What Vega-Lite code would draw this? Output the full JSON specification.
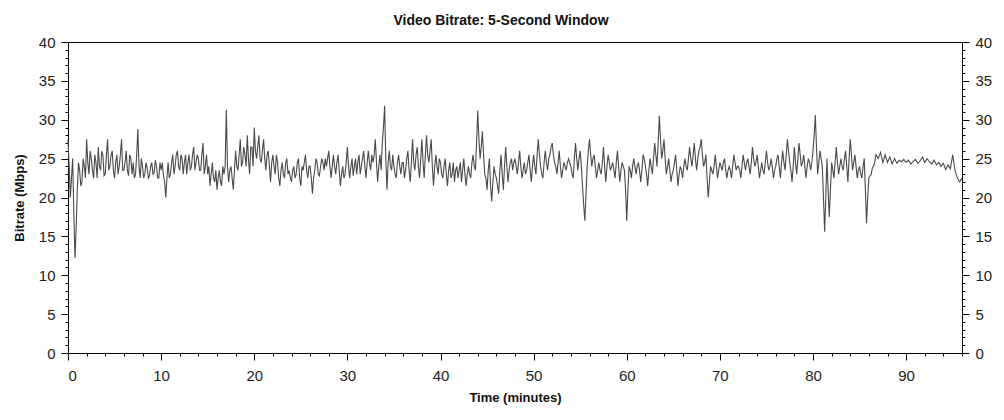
{
  "$schema": "https://vega.github.io/schema/vega-lite/v6.json",
  "autosize": "none",
  "width": 894,
  "height": 311,
  "padding": {"left": 68, "top": 42, "right": 42, "bottom": 67},
  "background": "white",
  "title": {"text": "Video Bitrate: 5-Second Window", "font": "Liberation Sans", "fontSize": 14, "fontWeight": "bold", "color": "#111", "anchor": "middle", "dx": -14, "offset": 7},
  "config": {
    "view": {"stroke": "#000", "strokeWidth": 1},
    "axis": {"labelFont": "Liberation Sans", "labelFontSize": 15, "labelColor": "#222", "titleFont": "Liberation Sans", "titleFontSize": 13, "titleFontWeight": "bold", "titleColor": "#111", "domainColor": "#000", "tickColor": "#000", "grid": false, "labelOverlap": false}
  },
  "data": {"values": [
{"t":0,"v":27.5},{"t":0.25,"v":20},{"t":0.5,"v":25},{"t":0.75,"v":12.2},
{"t":1,"v":21},{"t":1.25,"v":23.5},{"t":1.5,"v":22},{"t":1.75,"v":24},
{"t":2,"v":27.5},{"t":2.25,"v":23},{"t":2.5,"v":25},{"t":2.75,"v":22.5},
{"t":3,"v":24.5},{"t":3.25,"v":26.5},{"t":3.5,"v":23.5},{"t":3.75,"v":25.5},
{"t":4,"v":23},{"t":4.25,"v":27.5},{"t":4.5,"v":24},{"t":4.75,"v":26},
{"t":5,"v":22.5},{"t":5.25,"v":25.5},{"t":5.5,"v":24},{"t":5.75,"v":27.5},
{"t":6,"v":23.5},{"t":6.25,"v":26},{"t":6.5,"v":22.8},{"t":6.75,"v":25},
{"t":7,"v":24.5},{"t":7.25,"v":23},{"t":7.5,"v":28.8},{"t":7.75,"v":22.5},
{"t":8,"v":24},{"t":8.25,"v":23},{"t":8.5,"v":23.8},{"t":8.75,"v":22.8},
{"t":9,"v":24.5},{"t":9.25,"v":23.2},{"t":9.5,"v":24},{"t":9.75,"v":22.5},
{"t":10,"v":23.5},{"t":10.25,"v":22.8},{"t":10.5,"v":20},{"t":10.75,"v":24.5},
{"t":11,"v":23},{"t":11.25,"v":25.5},{"t":11.5,"v":24},{"t":11.75,"v":26},
{"t":12,"v":23.5},{"t":12.25,"v":25},{"t":12.5,"v":24.5},{"t":12.75,"v":23},
{"t":13,"v":25.5},{"t":13.25,"v":24},{"t":13.5,"v":26.5},{"t":13.75,"v":24.5},
{"t":14,"v":25},{"t":14.25,"v":23.5},{"t":14.5,"v":27},{"t":14.75,"v":24},
{"t":15,"v":23},{"t":15.25,"v":21.5},{"t":15.5,"v":24.5},{"t":15.75,"v":22},
{"t":16,"v":21},{"t":16.25,"v":23.5},{"t":16.5,"v":21.5},{"t":16.75,"v":23},
{"t":17,"v":31.3},{"t":17.25,"v":22},{"t":17.5,"v":24},{"t":17.75,"v":21},
{"t":18,"v":26},{"t":18.25,"v":23.5},{"t":18.5,"v":27.5},{"t":18.75,"v":24.5},
{"t":19,"v":25.5},{"t":19.25,"v":28},{"t":19.5,"v":23},{"t":19.75,"v":26.5},
{"t":20,"v":29},{"t":20.25,"v":25},{"t":20.5,"v":28},{"t":20.75,"v":24.5},
{"t":21,"v":27.5},{"t":21.25,"v":23.5},{"t":21.5,"v":26},{"t":21.75,"v":22},
{"t":22,"v":25.5},{"t":22.25,"v":23},{"t":22.5,"v":24.5},{"t":22.75,"v":21.5},
{"t":23,"v":24.5},{"t":23.25,"v":22.5},{"t":23.5,"v":25},{"t":23.75,"v":23.5},
{"t":24,"v":22},{"t":24.25,"v":24},{"t":24.5,"v":23},{"t":24.75,"v":25},
{"t":25,"v":21.5},{"t":25.25,"v":23.5},{"t":25.5,"v":25.5},{"t":25.75,"v":22.5},
{"t":26,"v":24},{"t":26.25,"v":20.5},{"t":26.5,"v":23.5},{"t":26.75,"v":24.5},
{"t":27,"v":22.8},{"t":27.25,"v":25},{"t":27.5,"v":23.5},{"t":27.75,"v":24},
{"t":28,"v":26},{"t":28.25,"v":22.5},{"t":28.5,"v":25.5},{"t":28.75,"v":23},
{"t":29,"v":25.5},{"t":29.25,"v":21.5},{"t":29.5,"v":24},{"t":29.75,"v":23},
{"t":30,"v":26.5},{"t":30.25,"v":22.5},{"t":30.5,"v":25},{"t":30.75,"v":24},
{"t":31,"v":23},{"t":31.25,"v":25.5},{"t":31.5,"v":24},{"t":31.75,"v":26},
{"t":32,"v":22.5},{"t":32.25,"v":26},{"t":32.5,"v":23.5},{"t":32.75,"v":24.5},
{"t":33,"v":27.5},{"t":33.25,"v":22},{"t":33.5,"v":25.5},{"t":33.75,"v":27},
{"t":34,"v":31.8},{"t":34.25,"v":21},{"t":34.5,"v":26},{"t":34.75,"v":23.5},
{"t":35,"v":24},{"t":35.25,"v":22.5},{"t":35.5,"v":25.5},{"t":35.75,"v":23},
{"t":36,"v":24.5},{"t":36.25,"v":23.5},{"t":36.5,"v":26},{"t":36.75,"v":22},
{"t":37,"v":27.5},{"t":37.25,"v":23.5},{"t":37.5,"v":26.5},{"t":37.75,"v":22.5},
{"t":38,"v":27.5},{"t":38.25,"v":22.5},{"t":38.5,"v":28},{"t":38.75,"v":24.5},
{"t":39,"v":27.5},{"t":39.25,"v":21.5},{"t":39.5,"v":25.5},{"t":39.75,"v":23},
{"t":40,"v":24.5},{"t":40.25,"v":22.5},{"t":40.5,"v":25},{"t":40.75,"v":21.5},
{"t":41,"v":24.5},{"t":41.25,"v":23},{"t":41.5,"v":22},{"t":41.75,"v":24},
{"t":42,"v":23.5},{"t":42.25,"v":22},{"t":42.5,"v":25},{"t":42.75,"v":21.5},
{"t":43,"v":24},{"t":43.25,"v":22.5},{"t":43.5,"v":25.5},{"t":43.75,"v":23.5},
{"t":44,"v":31.2},{"t":44.25,"v":25},{"t":44.5,"v":28.5},{"t":44.75,"v":23},
{"t":45,"v":21},{"t":45.25,"v":25},{"t":45.5,"v":19.5},{"t":45.75,"v":24},
{"t":46,"v":22.5},{"t":46.25,"v":20.5},{"t":46.5,"v":25.5},{"t":46.75,"v":21},
{"t":47,"v":26.5},{"t":47.25,"v":22},{"t":47.5,"v":24.5},{"t":47.75,"v":23.5},
{"t":48,"v":25},{"t":48.25,"v":23},{"t":48.5,"v":26},{"t":48.75,"v":22.5},
{"t":49,"v":24.5},{"t":49.25,"v":23.5},{"t":49.5,"v":25.5},{"t":49.75,"v":22},
{"t":50,"v":25.5},{"t":50.25,"v":23},{"t":50.5,"v":27.5},{"t":50.75,"v":24},
{"t":51,"v":22.5},{"t":51.25,"v":26},{"t":51.5,"v":23.5},{"t":51.75,"v":25.5},
{"t":52,"v":27},{"t":52.25,"v":24.5},{"t":52.5,"v":23},{"t":52.75,"v":26},
{"t":53,"v":22.5},{"t":53.25,"v":24.5},{"t":53.5,"v":23.5},{"t":53.75,"v":25},
{"t":54,"v":24},{"t":54.25,"v":22.5},{"t":54.5,"v":27},{"t":54.75,"v":23.5},
{"t":55,"v":26},{"t":55.25,"v":21.5},{"t":55.5,"v":17},{"t":55.75,"v":24},
{"t":56,"v":27.5},{"t":56.25,"v":24},{"t":56.5,"v":25.5},{"t":56.75,"v":22.5},
{"t":57,"v":24.5},{"t":57.25,"v":23},{"t":57.5,"v":26.5},{"t":57.75,"v":22},
{"t":58,"v":25.5},{"t":58.25,"v":23.5},{"t":58.5,"v":24.5},{"t":58.75,"v":22.5},
{"t":59,"v":26},{"t":59.25,"v":22},{"t":59.5,"v":24.5},{"t":59.75,"v":23.5},
{"t":60,"v":17},{"t":60.25,"v":24},{"t":60.5,"v":22.5},{"t":60.75,"v":25},
{"t":61,"v":23},{"t":61.25,"v":24.5},{"t":61.5,"v":22},{"t":61.75,"v":25.5},
{"t":62,"v":24},{"t":62.25,"v":21.5},{"t":62.5,"v":25},{"t":62.75,"v":23},
{"t":63,"v":27},{"t":63.25,"v":24},{"t":63.5,"v":30.5},{"t":63.75,"v":25},
{"t":64,"v":27.5},{"t":64.25,"v":23},{"t":64.5,"v":25},{"t":64.75,"v":22},
{"t":65,"v":23.5},{"t":65.25,"v":25.5},{"t":65.5,"v":21.5},{"t":65.75,"v":24},
{"t":66,"v":22.5},{"t":66.25,"v":25},{"t":66.5,"v":23.5},{"t":66.75,"v":26.5},
{"t":67,"v":24},{"t":67.25,"v":27},{"t":67.5,"v":23.5},{"t":67.75,"v":26},
{"t":68,"v":27.5},{"t":68.25,"v":24},{"t":68.5,"v":25.5},{"t":68.75,"v":20},
{"t":69,"v":24},{"t":69.25,"v":23},{"t":69.5,"v":25.5},{"t":69.75,"v":22.5},
{"t":70,"v":24.5},{"t":70.25,"v":23.5},{"t":70.5,"v":25},{"t":70.75,"v":22.5},
{"t":71,"v":24},{"t":71.25,"v":22.5},{"t":71.5,"v":25.5},{"t":71.75,"v":23.5},
{"t":72,"v":24},{"t":72.25,"v":22.5},{"t":72.5,"v":25.5},{"t":72.75,"v":23.5},
{"t":73,"v":25},{"t":73.25,"v":23},{"t":73.5,"v":26.5},{"t":73.75,"v":24},
{"t":74,"v":25.5},{"t":74.25,"v":22.5},{"t":74.5,"v":24.5},{"t":74.75,"v":23},
{"t":75,"v":26},{"t":75.25,"v":23.5},{"t":75.5,"v":25},{"t":75.75,"v":22.5},
{"t":76,"v":24},{"t":76.25,"v":25.5},{"t":76.5,"v":22.5},{"t":76.75,"v":26},
{"t":77,"v":23.5},{"t":77.25,"v":27.5},{"t":77.5,"v":24.5},{"t":77.75,"v":22},
{"t":78,"v":26.5},{"t":78.25,"v":23},{"t":78.5,"v":27},{"t":78.75,"v":24},
{"t":79,"v":25.5},{"t":79.25,"v":22.5},{"t":79.5,"v":25},{"t":79.75,"v":23.5},
{"t":80,"v":26},{"t":80.25,"v":30.6},{"t":80.5,"v":23},{"t":80.75,"v":26},
{"t":81,"v":24},{"t":81.25,"v":15.6},{"t":81.5,"v":25},{"t":81.75,"v":17.5},
{"t":82,"v":24.5},{"t":82.25,"v":22.5},{"t":82.5,"v":26.5},{"t":82.75,"v":23},
{"t":83,"v":25},{"t":83.25,"v":23.5},{"t":83.5,"v":26},{"t":83.75,"v":22},
{"t":84,"v":27.5},{"t":84.25,"v":23.5},{"t":84.5,"v":25.5},{"t":84.75,"v":22.5},
{"t":85,"v":24},{"t":85.25,"v":22.5},{"t":85.5,"v":25},{"t":85.75,"v":16.7},
{"t":86,"v":22.5},{"t":86.25,"v":23},{"t":86.5,"v":24},{"t":86.75,"v":25.5},
{"t":87,"v":25},{"t":87.25,"v":25.8},{"t":87.5,"v":24.5},{"t":87.75,"v":25.5},
{"t":88,"v":24.5},{"t":88.25,"v":25.2},{"t":88.5,"v":24.3},{"t":88.75,"v":25},
{"t":89,"v":24.4},{"t":89.25,"v":24.8},{"t":89.5,"v":24.6},{"t":89.75,"v":24.9},
{"t":90,"v":24.5},{"t":90.25,"v":24.8},{"t":90.5,"v":24.3},{"t":90.75,"v":24.6},
{"t":91,"v":24.9},{"t":91.25,"v":24.4},{"t":91.5,"v":24.7},{"t":91.75,"v":25.2},
{"t":92,"v":24.5},{"t":92.25,"v":25},{"t":92.5,"v":24.6},{"t":92.75,"v":24.3},
{"t":93,"v":24.8},{"t":93.25,"v":24.2},{"t":93.5,"v":24.5},{"t":93.75,"v":24},
{"t":94,"v":24.4},{"t":94.25,"v":23.6},{"t":94.5,"v":24.2},{"t":94.75,"v":23.7},
{"t":95,"v":25.5},{"t":95.25,"v":23.5},{"t":95.5,"v":22.5},{"t":95.75,"v":22},
{"t":96,"v":22.5},
{"t":0.125,"v":24},{"t":0.375,"v":22.5},{"t":0.625,"v":18},{"t":0.875,"v":16},
{"t":1.125,"v":24.5},{"t":1.375,"v":21.5},{"t":1.625,"v":25},{"t":1.875,"v":22.5},
{"t":2.125,"v":24.5},{"t":2.375,"v":26},{"t":2.625,"v":23.5},{"t":2.875,"v":25.5},
{"t":3.125,"v":22.5},{"t":3.375,"v":24},{"t":3.625,"v":26},{"t":3.875,"v":22.8},
{"t":4.125,"v":25.5},{"t":4.375,"v":23.5},{"t":4.625,"v":25.5},{"t":4.875,"v":23.5},
{"t":5.125,"v":24.5},{"t":5.375,"v":23},{"t":5.625,"v":25.5},{"t":5.875,"v":23.5},
{"t":6.125,"v":24.5},{"t":6.375,"v":23.5},{"t":6.625,"v":25.5},{"t":6.875,"v":23},
{"t":7.125,"v":22.5},{"t":7.375,"v":25.5},{"t":7.625,"v":24},{"t":7.875,"v":25},
{"t":8.125,"v":22.5},{"t":8.375,"v":24.5},{"t":8.625,"v":22.5},{"t":8.875,"v":24},
{"t":9.125,"v":23},{"t":9.375,"v":24.8},{"t":9.625,"v":22.5},{"t":9.875,"v":24.5},
{"t":10.125,"v":24.5},{"t":10.375,"v":22},{"t":10.625,"v":22.5},{"t":10.875,"v":22.5},
{"t":11.125,"v":24.5},{"t":11.375,"v":23},{"t":11.625,"v":25.5},{"t":11.875,"v":24},
{"t":12.125,"v":25.5},{"t":12.375,"v":23},{"t":12.625,"v":25.5},{"t":12.875,"v":24.5},
{"t":13.125,"v":23.5},{"t":13.375,"v":25.5},{"t":13.625,"v":23.5},{"t":13.875,"v":25.5},
{"t":14.125,"v":23.5},{"t":14.375,"v":25.5},{"t":14.625,"v":23},{"t":14.875,"v":25.5},
{"t":15.125,"v":24},{"t":15.375,"v":23},{"t":15.625,"v":22.5},{"t":15.875,"v":23.5},
{"t":16.125,"v":22.5},{"t":16.375,"v":22},{"t":16.625,"v":24},{"t":16.875,"v":24},
{"t":17.125,"v":24},{"t":17.375,"v":23.5},{"t":17.625,"v":22.5},{"t":17.875,"v":23.5},
{"t":18.125,"v":24},{"t":18.375,"v":25.5},{"t":18.625,"v":24},{"t":18.875,"v":26.5},
{"t":19.125,"v":24},{"t":19.375,"v":25},{"t":19.625,"v":26.5},{"t":19.875,"v":24},
{"t":20.125,"v":26},{"t":20.375,"v":26.5},{"t":20.625,"v":25},{"t":20.875,"v":26},
{"t":21.125,"v":25},{"t":21.375,"v":25.5},{"t":21.625,"v":24},{"t":21.875,"v":24.5},
{"t":22.125,"v":24},{"t":22.375,"v":25.5},{"t":22.625,"v":22.5},{"t":22.875,"v":23.5},
{"t":23.125,"v":23},{"t":23.375,"v":24.5},{"t":23.625,"v":23},{"t":23.875,"v":22.5},
{"t":24.125,"v":23.5},{"t":24.375,"v":22.5},{"t":24.625,"v":24.5},{"t":24.875,"v":22.5},
{"t":25.125,"v":24},{"t":25.375,"v":24.5},{"t":25.625,"v":23.5},{"t":25.875,"v":24},
{"t":26.125,"v":22.5},{"t":26.375,"v":22.5},{"t":26.625,"v":25},{"t":26.875,"v":23},
{"t":27.125,"v":24},{"t":27.375,"v":24.5},{"t":27.625,"v":25},{"t":27.875,"v":25},
{"t":28.125,"v":24},{"t":28.375,"v":24},{"t":28.625,"v":24},{"t":28.875,"v":24.5},
{"t":29.125,"v":23.5},{"t":29.375,"v":23},{"t":29.625,"v":22.5},{"t":29.875,"v":24.5},
{"t":30.125,"v":24},{"t":30.375,"v":24},{"t":30.625,"v":22.8},{"t":30.875,"v":25},
{"t":31.125,"v":24.5},{"t":31.375,"v":23},{"t":31.625,"v":25},{"t":31.875,"v":24},
{"t":32.125,"v":24.5},{"t":32.375,"v":24.5},{"t":32.625,"v":25.5},{"t":32.875,"v":25.5},
{"t":33.125,"v":24.5},{"t":33.375,"v":24},{"t":33.625,"v":23.5},{"t":33.875,"v":29},
{"t":34.125,"v":25},{"t":34.375,"v":24.5},{"t":34.625,"v":24},{"t":34.875,"v":25.5},
{"t":35.125,"v":23},{"t":35.375,"v":24.5},{"t":35.625,"v":24},{"t":35.875,"v":24.5},
{"t":36.125,"v":22.5},{"t":36.375,"v":25},{"t":36.625,"v":23.5},{"t":36.875,"v":24.5},
{"t":37.125,"v":24.5},{"t":37.375,"v":25.5},{"t":37.625,"v":24},{"t":37.875,"v":25},
{"t":38.125,"v":24.5},{"t":38.375,"v":25.5},{"t":38.625,"v":25.5},{"t":38.875,"v":26},
{"t":39.125,"v":24},{"t":39.375,"v":24},{"t":39.625,"v":24},{"t":39.875,"v":25},
{"t":40.125,"v":23},{"t":40.375,"v":24},{"t":40.625,"v":23},{"t":40.875,"v":23.5},
{"t":41.125,"v":22.5},{"t":41.375,"v":24.5},{"t":41.625,"v":23.5},{"t":41.875,"v":22.5},
{"t":42.125,"v":24.5},{"t":42.375,"v":23.5},{"t":42.625,"v":23},{"t":42.875,"v":23},
{"t":43.125,"v":23},{"t":43.375,"v":24.5},{"t":43.625,"v":24},{"t":43.875,"v":27},
{"t":44.125,"v":27.5},{"t":44.375,"v":26.5},{"t":44.625,"v":25.5},{"t":44.875,"v":22.5},
{"t":45.125,"v":23.5},{"t":45.375,"v":21.5},{"t":45.625,"v":22},{"t":45.875,"v":23},
{"t":46.125,"v":21.5},{"t":46.375,"v":23.5},{"t":46.625,"v":23},{"t":46.875,"v":24},
{"t":47.125,"v":24},{"t":47.375,"v":23.5},{"t":47.625,"v":25},{"t":47.875,"v":24.5},
{"t":48.125,"v":24},{"t":48.375,"v":24.5},{"t":48.625,"v":24},{"t":48.875,"v":23.5},
{"t":49.125,"v":23},{"t":49.375,"v":24.5},{"t":49.625,"v":23.5},{"t":49.875,"v":24},
{"t":50.125,"v":24},{"t":50.375,"v":25.5},{"t":50.625,"v":25.5},{"t":50.875,"v":23},
{"t":51.125,"v":24.5},{"t":51.375,"v":24.5},{"t":51.625,"v":25},{"t":51.875,"v":26.5},
{"t":52.125,"v":25.5},{"t":52.375,"v":24},{"t":52.625,"v":24.5},{"t":52.875,"v":24},
{"t":53.125,"v":23.5},{"t":53.375,"v":24},{"t":53.625,"v":24.5},{"t":53.875,"v":24.5},
{"t":54.125,"v":23},{"t":54.375,"v":25},{"t":54.625,"v":25},{"t":54.875,"v":25},
{"t":55.125,"v":24},{"t":55.375,"v":19},{"t":55.625,"v":20.5},{"t":55.875,"v":26},
{"t":56.125,"v":25.5},{"t":56.375,"v":25},{"t":56.625,"v":24},{"t":56.875,"v":23.5},
{"t":57.125,"v":23.5},{"t":57.375,"v":24.5},{"t":57.625,"v":24},{"t":57.875,"v":24},
{"t":58.125,"v":24.5},{"t":58.375,"v":24},{"t":58.625,"v":23.5},{"t":58.875,"v":24.5},
{"t":59.125,"v":24},{"t":59.375,"v":23.5},{"t":59.625,"v":24},{"t":59.875,"v":21},
{"t":60.125,"v":21},{"t":60.375,"v":23.5},{"t":60.625,"v":24},{"t":60.875,"v":24},
{"t":61.125,"v":24},{"t":61.375,"v":23.5},{"t":61.625,"v":23.5},{"t":61.875,"v":25},
{"t":62.125,"v":23},{"t":62.375,"v":23.5},{"t":62.625,"v":24},{"t":62.875,"v":25},
{"t":63.125,"v":25.5},{"t":63.375,"v":27},{"t":63.625,"v":27.5},{"t":63.875,"v":26},
{"t":64.125,"v":25},{"t":64.375,"v":24},{"t":64.625,"v":23.5},{"t":64.875,"v":23},
{"t":65.125,"v":24.5},{"t":65.375,"v":23.5},{"t":65.625,"v":23},{"t":65.875,"v":23.5},
{"t":66.125,"v":24},{"t":66.375,"v":24},{"t":66.625,"v":25},{"t":66.875,"v":25},
{"t":67.125,"v":25.5},{"t":67.375,"v":25},{"t":67.625,"v":25},{"t":67.875,"v":26.5},
{"t":68.125,"v":25.5},{"t":68.375,"v":24.5},{"t":68.625,"v":22.5},{"t":68.875,"v":22},
{"t":69.125,"v":23.5},{"t":69.375,"v":24},{"t":69.625,"v":24},{"t":69.875,"v":23.5},
{"t":70.125,"v":24},{"t":70.375,"v":24.5},{"t":70.625,"v":23.5},{"t":70.875,"v":23.5},
{"t":71.125,"v":23.5},{"t":71.375,"v":24},{"t":71.625,"v":24.5},{"t":71.875,"v":24},
{"t":72.125,"v":23.5},{"t":72.375,"v":24},{"t":72.625,"v":24.5},{"t":72.875,"v":24.5},
{"t":73.125,"v":24},{"t":73.375,"v":24.5},{"t":73.625,"v":25},{"t":73.875,"v":24.5},
{"t":74.125,"v":24},{"t":74.375,"v":23.5},{"t":74.625,"v":23.5},{"t":74.875,"v":24.5},
{"t":75.125,"v":24.5},{"t":75.375,"v":24},{"t":75.625,"v":24},{"t":75.875,"v":23.5},
{"t":76.125,"v":25},{"t":76.375,"v":24},{"t":76.625,"v":24.5},{"t":76.875,"v":24.5},
{"t":77.125,"v":25.5},{"t":77.375,"v":26},{"t":77.625,"v":23.5},{"t":77.875,"v":24},
{"t":78.125,"v":24.5},{"t":78.375,"v":25},{"t":78.625,"v":25.5},{"t":78.875,"v":24.5},
{"t":79.125,"v":24},{"t":79.375,"v":24},{"t":79.625,"v":24.5},{"t":79.875,"v":24.5},
{"t":80.125,"v":28},{"t":80.375,"v":26.5},{"t":80.625,"v":24.5},{"t":80.875,"v":25},
{"t":81.125,"v":20},{"t":81.375,"v":20},{"t":81.625,"v":21},{"t":81.875,"v":21},
{"t":82.125,"v":23.5},{"t":82.375,"v":24.5},{"t":82.625,"v":24.5},{"t":82.875,"v":24},
{"t":83.125,"v":24},{"t":83.375,"v":25},{"t":83.625,"v":24},{"t":83.875,"v":25},
{"t":84.125,"v":25.5},{"t":84.375,"v":24.5},{"t":84.625,"v":24},{"t":84.875,"v":23.5},
{"t":85.125,"v":23},{"t":85.375,"v":24},{"t":85.625,"v":21},{"t":85.875,"v":20},
{"t":86.125,"v":22.8},{"t":86.375,"v":23.8},{"t":86.625,"v":24.5},{"t":86.875,"v":25.3}
  ]},
  "encoding": {
    "x": {"field": "t", "type": "quantitative", "sort": "ascending", "scale": {"domain": [0, 96], "nice": false, "zero": false},
          "axis": {"title": "Time (minutes)", "labelOverlap": false, "values": [0,2,4,6,8,10,12,14,16,18,20,22,24,26,28,30,32,34,36,38,40,42,44,46,48,50,52,54,56,58,60,62,64,66,68,70,72,74,76,78,80,82,84,86,88,90,92,94,96],
                   "labelExpr": "datum.value % 10 === 0 ? datum.label : ''", "tickSize": {"condition": {"test": "datum.value % 10 === 0", "value": 7}, "value": 3},
                   "labelPadding": 8, "titlePadding": 8}}
  },
  "layer": [
    {
      "mark": {"type": "line", "color": "#4a4a4a", "strokeWidth": 1.1, "interpolate": "linear"},
      "encoding": {
        "y": {"field": "v", "type": "quantitative", "scale": {"domain": [0, 40], "nice": false},
              "axis": {"title": "Bitrate (Mbps)", "orient": "left", "labelOverlap": false, "values": [0,1,2,3,4,5,6,7,8,9,10,11,12,13,14,15,16,17,18,19,20,21,22,23,24,25,26,27,28,29,30,31,32,33,34,35,36,37,38,39,40],
                       "labelExpr": "datum.value % 5 === 0 ? datum.label : ''", "tickSize": {"condition": {"test": "datum.value % 5 === 0", "value": 7}, "value": 3},
                       "labelPadding": 6, "titlePadding": 12}}
      }
    },
    {
      "mark": {"type": "line", "opacity": 0},
      "encoding": {
        "y": {"field": "v", "type": "quantitative", "scale": {"domain": [0, 40], "nice": false},
              "axis": {"title": null, "orient": "right", "labelOverlap": false, "values": [0,1,2,3,4,5,6,7,8,9,10,11,12,13,14,15,16,17,18,19,20,21,22,23,24,25,26,27,28,29,30,31,32,33,34,35,36,37,38,39,40],
                       "labelExpr": "datum.value % 5 === 0 ? datum.label : ''", "tickSize": {"condition": {"test": "datum.value % 5 === 0", "value": 7}, "value": 3},
                       "labelPadding": 6}}
      }
    }
  ],
  "resolve": {"scale": {"y": "independent"}}
}
